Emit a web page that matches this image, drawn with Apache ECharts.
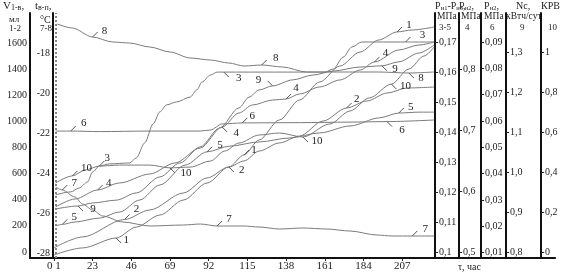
<!DOCTYPE html>
<html><head><meta charset="utf-8">
<script src="https://cdn.jsdelivr.net/npm/echarts@6/dist/echarts.min.js"></script>
<style>html,body{margin:0;padding:0;background:#fff}#c{width:563px;height:275px}</style>
</head><body><div id="c"></div>
<script>
// ---- tick labels ----
const timeTicks = [0, 23, 46, 69, 92, 115, 138, 161, 184, 207];
const vTicks = [0, 200, 400, 600, 800, 1000, 1200, 1400, 1600];
const tTicks = [-28, -26, -24, -22, -20, -18];
const p13Ticks = [0.1, 0.11, 0.12, 0.13, 0.14, 0.15, 0.16, 0.17];
const p2aTicks = [0.5, 0.6, 0.7, 0.8];
const p2bTicks = [0.01, 0.02, 0.03, 0.04, 0.05, 0.06, 0.07, 0.08, 0.09];
const ncTicks = [0.8, 0.9, 1.0, 1.1, 1.2, 1.3];
const krvTicks = [0, 0.2, 0.4, 0.6, 0.8, 1];

// ---- series values [time, value] ----
const curve1 = [[0,-23],[17,31],[37,107],[49,191],[63,283],[77,398],[91,528],[104,651],[113,743],[122,858],[134,1011],[146,1164],[158,1302],[170,1424],[182,1531],[193,1623],[204,1685],[213,1700],[226,1723]];
const curve2 = [[0,31],[17,115],[42,249],[57,322],[77,452],[91,567],[104,651],[113,697],[122,773],[134,835],[146,888],[160,1003],[174,1103],[186,1156],[198,1217],[210,1256],[226,1263]];
const curve3 = [[1,0.1192],[10,0.1202],[15,0.1215],[20,0.1235],[23,0.1268],[27,0.1288],[33,0.1295],[45,0.1298],[49,0.1315],[54,0.1365],[59,0.1428],[63,0.1468],[67,0.1491],[73,0.1501],[81,0.1517],[85,0.1541],[88,0.1567],[93,0.159],[97,0.16],[101,0.16],[116,0.16],[146,0.16],[161,0.16],[166,0.161],[172,0.165],[177,0.1683],[183,0.17],[209,0.17],[226,0.17]];
const curve4 = [[1,0.5747],[12.5,0.5877],[26,0.6025],[39,0.6139],[57,0.6286],[72,0.6466],[87,0.6711],[100,0.7054],[110,0.7283],[118,0.7413],[130,0.7495],[138,0.7511],[146,0.7594],[158,0.7708],[170,0.7822],[182,0.7985],[190.5,0.8116],[205,0.8312],[217,0.8394],[226,0.8443]];
const curve5 = [[1,0.1089],[5,0.1094],[12.5,0.1102],[27,0.1115],[39,0.1135],[51,0.1175],[63,0.1225],[78,0.1291],[91,0.1335],[104.5,0.1354],[122,0.1368],[140,0.1381],[158,0.1398],[176,0.1421],[193.5,0.1448],[205,0.1464],[217,0.1467],[226,0.1467]];
const curve6 = [[1,0.0562],[10,0.0562],[27,0.056],[57,0.0562],[87,0.0562],[93,0.0566],[100,0.0589],[112,0.0593],[146,0.0594],[176,0.0596],[198,0.0598],[226,0.0604]];
const curve7 = [[1,-24.7],[5,-24.85],[12.5,-25.2],[17,-25.55],[23,-25.85],[29,-26.15],[41,-26.45],[57,-26.65],[77,-26.6],[87,-26.55],[97,-26.65],[113,-26.65],[122,-26.7],[134,-26.8],[148,-26.75],[162,-26.8],[176,-26.9],[192,-27.1],[201,-27.15],[213,-27.15],[226,-27.15]];
const curve8 = [[2,-16.55],[11,-16.75],[23,-17.2],[35,-17.45],[45,-17.5],[57,-17.7],[69,-17.95],[81,-18.25],[93,-18.35],[104,-18.5],[113,-18.65],[123.5,-18.6],[136,-18.7],[150,-18.95],[170,-18.95],[193,-18.95],[211,-19.0],[226,-18.95]];
const curve9 = [[1,0.909],[14.3,0.9165],[23,0.924],[37,0.931],[49,0.949],[63,0.989],[75,1.024],[87,1.064],[98.5,1.111],[110,1.161],[116,1.188],[122,1.206],[130,1.216],[142,1.231],[154,1.243],[166,1.253],[182,1.263],[195,1.266],[205,1.276],[217,1.298],[226,1.318]];
const curve10 = [[1,0.348],[11,0.383],[18.5,0.412],[27,0.432],[39,0.437],[57,0.437],[69,0.423],[81,0.427],[93,0.457],[101.5,0.507],[110,0.547],[122,0.587],[134,0.597],[148,0.577],[164,0.642],[176,0.707],[187.5,0.772],[200.6,0.841],[211,0.916],[220,0.981],[226,1.026]];

// curve name, data, axis index; label anchors: [data index, label dx, label dy]
const curves = [
  {name:'1', data:curve1, axis:0, labels:[[2,10,2],[8,10,-5],[16,12,-7]]},
  {name:'2', data:curve2, axis:0, labels:[[2,12,-10],[6,13,3],[12,10,-9]]},
  {name:'3', data:curve3, axis:2, labels:[[5,8,-8],[19,15,6],[27,17,-7]]},
  {name:'4', data:curve4, axis:3, labels:[[2,11,-7],[7,14,6],[11,10,-11],[16,11,-9]]},
  {name:'5', data:curve5, axis:2, labels:[[1,12,-7],[8,13,-7],[15,12,-6]]},
  {name:'6', data:curve6, axis:4, labels:[[1,13,-8],[7,10,-7],[10,15,9]]},
  {name:'7', data:curve7, axis:1, labels:[[1,12,-7],[10,12,-7],[19,13,-7]]},
  {name:'8', data:curve8, axis:1, labels:[[2,12,-6],[11,14,-7],[16,12,5]]},
  {name:'9', data:curve9, axis:5, labels:[[1,15,3],[12,-14,-6],[17,13,3]]},
  {name:'10', data:curve10, axis:6, labels:[[1,14,-8],[6,16,5],[13,14,4],[17,14,2]]}
];

const FONT = 'Liberation Serif';
const LC = '#7b7b7b';
const TC = '#222';
const comma = s => s.replace('.', ',');

function richSet(color) {
  return {
    a:{fontFamily:FONT, fontSize:10, color, lineHeight:10},
    b:{fontFamily:FONT, fontSize:6.5, color, lineHeight:10, padding:[4,0,0,0]},
    c:{fontFamily:FONT, fontSize:9.5, color, lineHeight:10},
    d:{fontFamily:FONT, fontSize:9, color, lineHeight:14}
  };
}
const padded = (base, n) => Object.assign({}, base, {padding:[0,0,0,n]});

function yAxis(min, max, pos, off, ticks, fmt, showTick, name, nameRich) {
  return {
    type:'value', min, max, position:pos, offset:off,
    name: name || '', nameLocation:'end', nameGap:12, nameMoveOverlap:false,
    nameTextStyle: name ? {align:'left', verticalAlign:'top', rich:nameRich} : undefined,
    axisLine:{show:true, onZero:false, lineStyle:{color:'#111', width:2}},
    splitLine:{show:false},
    axisTick:{show:showTick, length:3, customValues:ticks, lineStyle:{color:'#222'}},
    axisLabel:{customValues:ticks, formatter:fmt, fontFamily:FONT, fontSize:10, color:TC, margin: showTick?4:3}
  };
}

function headerRich(pads) {
  const r = richSet(TC);
  Object.keys(pads).forEach(k => { r[k] = padded(r[k.charAt(0)], pads[k]); });
  return r;
}

const yAxes = [
  yAxis(-46, 1830, 'left', 0, vTicks, v => String(v), false),
  yAxis(-28.25, -16, 'left', -23, tTicks, v => String(v), false),
  yAxis(0.09824, 0.17963, 'right', -120, p13Ticks, v => v === 0.1 ? '0,1' : comma(v.toFixed(2)), true,
    '{a|Р}{b|н1}{a|-Р}{b|н3}{a|,}\n{c2|МПа}\n{d4|3-5}', headerRich({c2:2, d4:4})),
  yAxis(0.49134, 0.89167, 'right', -96, p2aTicks, v => comma(v.toFixed(1)), true,
    '{a|Р}{b|н2}{a|,}\n{c2|МПа}\n{d6|4}', headerRich({c2:2, d6:6})),
  yAxis(0.00799, 0.10104, 'right', -74, p2bTicks, v => comma(v.toFixed(2)), true,
    '{a3|Р}{b|н2}{a|,}\n{c3|МПа}\n{d9|6}', headerRich({a3:3, c3:3, d9:9})),
  yAxis(0.78678, 1.39776, 'right', -49, ncTicks, v => comma(v.toFixed(1)), true,
    '{a10|Nc,}\n{c|кВтч/сут}\n{d14|9}', headerRich({a10:10, d14:14})),
  yAxis(-0.02643, 1.19551, 'right', -14, krvTicks, v => v === 0 ? '0' : v === 1 ? '1' : comma(v.toFixed(1)), true,
    '{a|КРВ}\n{c| }\n{d7|10}', headerRich({d7:7}))
];

const TICK_A = 'path://M0,10L10,0';
const TICK_B = 'path://M0,0L10,10';

const series = curves.map((c, k) => ({
  type:'line', name:c.name, data:c.data, yAxisIndex:c.axis, smooth:0.3, smoothMonotone:'x',
  showSymbol:false, silent:true, animation:false,
  lineStyle:{color:LC, width:1},
  markLine: k === 0 ? {silent:true, symbol:'none', label:{show:false},
      lineStyle:{color:'#888', type:[2,2], width:2}, data:[{xAxis:1}]} : undefined,
  markPoint:{
    silent:true, animation:false,
    data:c.labels.map(([i, dx, dy]) => {
      const sx = dx >= 0 ? 1 : -1, sy = dy >= 0 ? 1 : -1;
      return {
        coord:c.data[i], symbol:(sx*sy < 0) ? TICK_A : TICK_B, symbolSize:5,
        symbolOffset:[sx*2.5, sy*2.5],
        itemStyle:{color:'none', borderColor:'#555', borderWidth:1},
        label:{show:true, position:'inside', formatter:c.name, offset:[dx - sx*2.5, dy - sy*2.5],
               fontFamily:FONT, fontSize:11, color:TC}
      };
    })
  }
}));

const hdr = (x, y, text, size) => ({type:'text', x, y, silent:true,
  style:{text, font: size + 'px "' + FONT + '"', fill:TC}});
const sub = (x, y, main, s, tail) => ({type:'text', x, y, silent:true,
  style:{text:'{m|' + main + '}{s|' + s + '}{m|' + (tail||'') + '}', fill:TC,
    rich:{m:{fontFamily:FONT, fontSize:11, fill:TC}, s:{fontFamily:FONT, fontSize:8, fill:TC, padding:[4,0,0,0]}}}});

const chart = echarts.init(document.getElementById('c'), null, {renderer:'canvas'});
chart.setOption({
  backgroundColor:'#fff',
  animation:false,
  grid:{left:30, right:7, top:13, bottom:17, containLabel:false},
  xAxis:{type:'value', min:-14.2, max:297.9,
    axisLine:{show:true, onZero:false, lineStyle:{color:'#111', width:2}},
    splitLine:{show:false},
    axisTick:{show:true, length:3, customValues:timeTicks, lineStyle:{color:'#222'}},
    axisLabel:{customValues:timeTicks, formatter:v => v === 0 ? '0 1' : String(v),
      fontFamily:FONT, fontSize:11, color:TC, margin:3}},
  yAxis:yAxes,
  series,
  graphic:[
    sub(3, 0, 'V', '1-в', ','), hdr(9, 15, 'мл', 9), hdr(9, 24, '1-2', 9),
    sub(35, 0, 't', 'в-п', ','), hdr(40, 15, '°C', 10), hdr(40, 24, '7-8', 9),
    hdr(458, 262, 'τ, час', 10)
  ]
});
</script></body></html>
